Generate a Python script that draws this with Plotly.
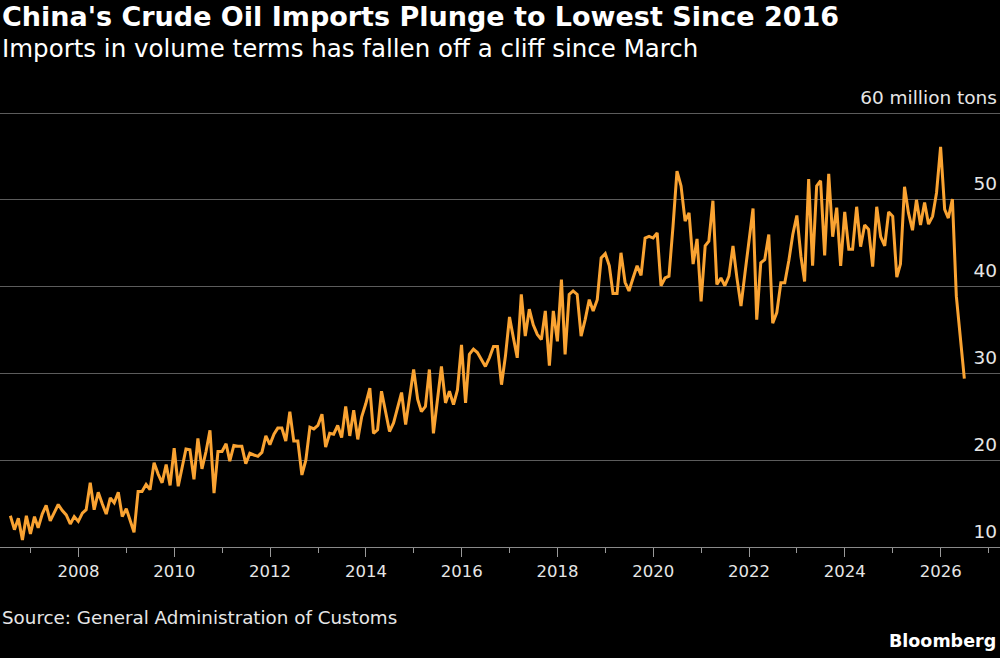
import plotly.graph_objects as go
import pandas as pd

# Monthly crude oil imports, million tons (Jul 2006 - Jun 2026)
first_month = "2006-07-31"
imports_mt = [
    # 2006 Jul-Dec
    13.6, 12.0, 13.3, 10.8, 13.6, 11.5,
    # 2007
    13.5, 12.2, 13.8, 14.8, 13.0, 14.0, 14.9, 14.2, 13.7, 12.65, 13.5, 12.95,
    # 2008
    13.9, 14.3, 17.4, 14.3, 16.3, 15.0, 13.8, 15.65, 15.1, 16.3, 13.5, 14.4,
    # 2009
    13.0, 11.7, 16.4, 16.4, 17.2, 16.6, 19.7, 18.4, 17.4, 19.5, 17.1, 21.4,
    # 2010
    17.0, 19.0, 21.3, 21.2, 17.8, 22.5, 19.0, 21.0, 23.45, 16.2, 21.0, 21.0,
    # 2011
    21.9, 19.9, 21.7, 21.6, 21.6, 19.6, 20.8, 20.6, 20.45, 20.9, 22.8, 21.8,
    # 2012
    23.0, 23.7, 23.7, 22.2, 25.6, 22.2, 22.2, 18.3, 20.0, 23.8, 23.6, 24.0,
    # 2013
    25.3, 21.5, 23.1, 23.0, 24.0, 22.6, 26.2, 22.8, 25.75, 22.4, 25.0, 26.5,
    # 2014
    28.3, 23.1, 23.5, 27.95, 25.5, 23.3, 24.3, 26.0, 27.8, 24.1, 27.0, 30.45,
    # 2015
    27.0, 25.6, 26.2, 30.45, 23.1, 27.0, 30.8, 26.6, 27.95, 26.4, 28.1, 33.3,
    # 2016
    26.6, 32.2, 32.8, 32.4, 31.5, 30.8, 31.8, 33.1, 33.1, 28.7, 32.0, 36.5,
    # 2017
    34.0, 31.8, 39.1, 34.3, 37.4, 35.6, 34.5, 33.9, 37.2, 30.9, 37.2, 33.7,
    # 2018
    40.8, 32.2, 39.1, 39.5, 39.1, 34.3, 36.2, 38.5, 37.2, 38.5, 43.3, 43.8,
    # 2019
    42.4, 39.2, 39.2, 43.9, 40.5, 39.5, 41.0, 42.4, 41.3, 45.6, 45.8, 45.6,
    # 2020
    46.2, 40.1, 41.0, 41.2, 47.0, 53.3, 51.6, 47.55, 48.5, 42.6, 45.5, 38.3,
    # 2021
    44.7, 45.25, 49.9, 40.25, 41.0, 40.1, 41.2, 44.7, 41.0, 37.75, 41.5, 45.5,
    # 2022
    49.0, 36.2, 42.75, 43.1, 46.0, 35.8, 37.0, 40.45, 40.45, 43.0, 46.0, 48.2,
    # 2023
    43.5, 40.6, 52.4, 42.4, 51.6, 52.2, 43.6, 53.0, 45.75, 49.1, 42.4, 48.6,
    # 2024
    44.3, 44.3, 49.2, 44.6, 47.1, 46.6, 42.3, 49.2, 45.75, 44.7, 48.6, 48.1,
    # 2025
    41.1, 42.6, 51.5, 48.5, 46.5, 50.0, 47.1, 49.7, 47.2, 48.1, 50.8, 56.1,
    # 2026 Jan-Jun
    48.9, 47.9, 50.1, 38.9, 34.2, 29.4,
]
months = pd.date_range(first_month, periods=len(imports_mt), freq="ME")

x_tick_years = list(range(2008, 2027, 2))
x_minor_years = list(range(2007, 2028, 2))
y_tick_values = [10, 20, 30, 40, 50, 60]
y_tick_labels = ["10", "20", "30", "40", "50", "60 million tons"]

title_text = "China's Crude Oil Imports Plunge to Lowest Since 2016"
subtitle_text = "Imports in volume terms has fallen off a cliff since March"
source_text = "Source: General Administration of Customs"
brand_text = "Bloomberg"

LINE = "#FAA332"
GRID = "#5c5c5c"
TXT = "#ffffff"
AX = "#e6e6e6"
FONT = "DejaVu Sans, sans-serif"

fig = go.Figure()
fig.add_trace(go.Scatter(
    x=months, y=imports_mt, mode="lines",
    line=dict(color=LINE, width=3), hoverinfo="x+y", showlegend=False,
))

fig.update_layout(
    width=1000, height=658,
    margin=dict(l=0, r=0, t=87, b=111),
    paper_bgcolor="#000000", plot_bgcolor="#000000",
    font=dict(family=FONT, color=AX),
    xaxis=dict(
        range=["2006-05-13", "2027-03-29"],
        showgrid=False, zeroline=False,
        showline=True, linecolor="#8a8a8a", linewidth=1,
        ticks="outside", ticklen=9, tickwidth=1, tickcolor="#9a9a9a",
        tickmode="array",
        tickvals=[f"{y}-01-01" for y in x_tick_years],
        ticktext=[str(y) for y in x_tick_years],
        ticklabeloverflow="allow",
        tickfont=dict(size=16.5, color=AX, family=FONT),
        minor=dict(tickmode="array",
                   tickvals=[f"{y}-01-01" for y in x_minor_years],
                   ticks="outside", ticklen=5, tickcolor="#9a9a9a", showgrid=False),
    ),
    yaxis=dict(
        range=[10, 63], side="right",
        tickvals=y_tick_values, ticktext=y_tick_labels,
        ticklabelposition="inside top",
        ticklabeloverflow="allow",
        ticklabelshift=-3,
        showgrid=True, gridcolor=GRID, gridwidth=1,
        zeroline=False, showline=False, ticks="",
        tickfont=dict(size=18.5, color=AX, family=FONT),
    ),
    annotations=[
        dict(text="<b>" + title_text + "</b>", x=0, y=1.1528, xref="paper", yref="paper",
             xanchor="left", yanchor="middle", showarrow=False, xshift=0,
             font=dict(size=27, color=TXT, family=FONT)),
        dict(text=subtitle_text, x=0, y=1.0838, xref="paper", yref="paper",
             xanchor="left", yanchor="middle", showarrow=False, xshift=0,
             font=dict(size=24.5, color=TXT, family=FONT)),
        dict(text=source_text, x=0, y=-0.1537, xref="paper", yref="paper",
             xanchor="left", yanchor="middle", showarrow=False, xshift=0,
             font=dict(size=18.3, color=AX, family=FONT)),
        dict(text="<b>" + brand_text + "</b>", x=1, y=-0.2037, xref="paper", yref="paper",
             xanchor="right", yanchor="middle", showarrow=False, xshift=-2,
             font=dict(size=17.5, color=TXT, family=FONT)),
    ],
)

fig.write_html("out.html")
